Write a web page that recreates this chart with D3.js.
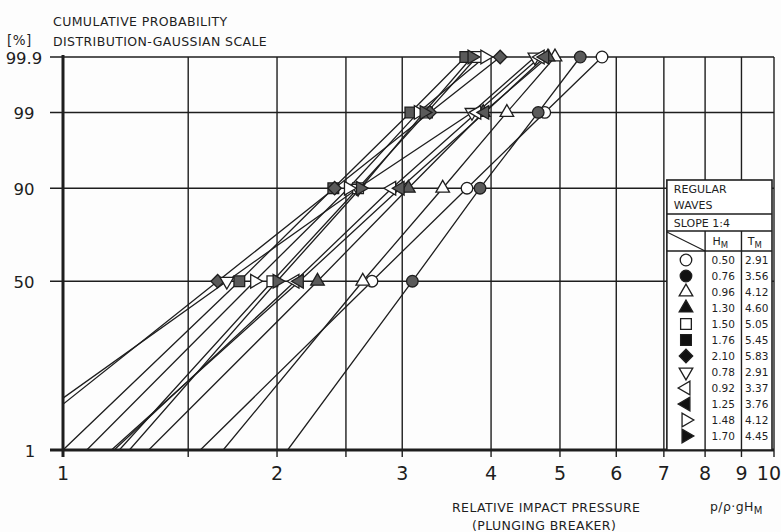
<!DOCTYPE html>
<html><head><meta charset="utf-8">
<script src="https://cdn.jsdelivr.net/npm/d3@7"></script>
<style>
html,body{margin:0;padding:0;background:#fff;}
svg{display:block;font-family:"DejaVu Sans",sans-serif;}
</style></head>
<body><svg id="c" width="781" height="532"></svg>
<script>
// ---- data ----
const probLevels = [50, 90, 99, 99.9];
const lowProb = 1;
const yTickLabels = [1, 50, 90, 99, 99.9];
const xTickLabels = [1, 2, 3, 4, 5, 6, 7, 8, 9, 10];
const xGridValues = [1, 1.5, 2, 2.5, 3, 4, 5, 6, 7, 8, 9, 10];
const markerTypes = ["circleOpen","circleFilled","triUpOpen","triUpFilled","squareOpen","squareFilled","diamondFilled","triDownOpen","triLeftOpen","triLeftFilled","triRightOpen","triRightFilled"];
const hmValues = ["0.50","0.76","0.96","1.30","1.50","1.76","2.10","0.78","0.92","1.25","1.48","1.70"];
const tmValues = ["2.91","3.56","4.12","4.60","5.05","5.45","5.83","2.91","3.37","3.76","4.12","4.45"];
// relative impact pressure at each cumulative probability
const at1   = [1.56, 2.07, 1.68, 1.32, 1.20, 1.00, 0.83, 0.79, 1.18, 1.17, 1.08, 1.24]; // line end at 1 %
const at50  = [2.72, 3.10, 2.64, 2.28, 1.97, 1.77, 1.65, 1.70, 2.12, 2.15, 1.86, 2.00];
const at90  = [3.70, 3.86, 3.42, 3.06, 2.60, 2.40, 2.41, 2.60, 2.90, 2.98, 2.52, 2.62];
const at99  = [4.76, 4.66, 4.21, 3.90, 3.25, 3.08, 3.28, 3.76, 3.82, 3.92, 3.16, 3.22];
const at999 = [5.73, 5.34, 4.92, 4.81, 3.82, 3.68, 4.12, 4.61, 4.69, 4.76, 3.92, 3.76];

// ---- inverse normal (probit) for the Gaussian probability scale ----
function probit(p){
  const a=[-39.69683028665376,220.9460984245205,-275.9285104469687,138.3577518672690,-30.66479806614716,2.506628277459239];
  const b=[-54.47609879822406,161.5858368580409,-155.6989798598866,66.80131188771972,-13.28068155288572];
  const c=[-0.007784894002430293,-0.3223964580411365,-2.400758277161838,-2.549732539343734,4.374664141464968,2.938163982698783];
  const d=[0.007784695709041462,0.3224671290700398,2.445134137142996,3.754408661907416];
  const pl=0.02425, ph=1-pl; let q,r;
  if(p<pl){q=Math.sqrt(-2*Math.log(p));return (((((c[0]*q+c[1])*q+c[2])*q+c[3])*q+c[4])*q+c[5])/((((d[0]*q+d[1])*q+d[2])*q+d[3])*q+1);}
  if(p<=ph){q=p-0.5;r=q*q;return (((((a[0]*r+a[1])*r+a[2])*r+a[3])*r+a[4])*r+a[5])*q/(((((b[0]*r+b[1])*r+b[2])*r+b[3])*r+b[4])*r+1);}
  q=Math.sqrt(-2*Math.log(1-p));return -(((((c[0]*q+c[1])*q+c[2])*q+c[3])*q+c[4])*q+c[5])/((((d[0]*q+d[1])*q+d[2])*q+d[3])*q+1);
}

const L=63, R=774, T=57, B=450;
const x = d3.scaleLog().domain([1,10]).range([L,R]);
const zScale = d3.scaleLinear().domain([probit(0.01), probit(0.999)]).range([B,T]);
const y = p => zScale(probit(p/100));

const svg = d3.select("#c");
svg.append("rect").attr("width",781).attr("height",532).attr("fill","#fdfdfd");
const ink = "#1e1e1e";

svg.append("defs").append("clipPath").attr("id","plotclip")
  .append("rect").attr("x",L).attr("y",T-12).attr("width",R-L).attr("height",B-T+12);

// grid
const g = svg.append("g");
g.selectAll("line.vg").data(xGridValues).join("line")
  .attr("x1",d=>x(d)).attr("x2",d=>x(d)).attr("y1",T).attr("y2",B+7)
  .attr("stroke",ink).attr("stroke-width",1.4);
g.selectAll("line.hg").data(yTickLabels).join("line")
  .attr("x1",L-13).attr("x2",R).attr("y1",d=>y(d)).attr("y2",d=>y(d))
  .attr("stroke",ink).attr("stroke-width",d=>d===1?2.8:1.5);
// thick left axis
g.append("line").attr("x1",L).attr("x2",L).attr("y1",T-2).attr("y2",B+7).attr("stroke",ink).attr("stroke-width",3);

// tick labels
g.selectAll("text.yl").data(yTickLabels).join("text")
  .attr("x",d=>d===1?30:24).attr("y",d=>y(d)+7).attr("text-anchor","middle")
  .attr("font-size",16.5).attr("fill",ink).text(d=>d);
g.selectAll("text.xl").data(xTickLabels).join("text")
  .attr("x",d=>d===10?781:x(d)).attr("y",480).attr("text-anchor",d=>d===10?"end":"middle")
  .attr("font-size",19).attr("fill",ink).text(d=>d);

// titles
const tt = svg.append("g").attr("fill",ink).attr("font-size",12.5).attr("letter-spacing",0.4);
tt.append("text").attr("x",53).attr("y",26).text("CUMULATIVE PROBABILITY");
tt.append("text").attr("x",7).attr("y",45).attr("font-size",13.5).text("[%]");
tt.append("text").attr("x",53).attr("y",46).text("DISTRIBUTION-GAUSSIAN SCALE");
tt.append("text").attr("x",452).attr("y",512).text("RELATIVE IMPACT PRESSURE");
tt.append("text").attr("x",472).attr("y",530).text("(PLUNGING BREAKER)");
const u = tt.append("text").attr("x",710).attr("y",511);
u.append("tspan").text("p/ρ·gH");
u.append("tspan").attr("dy",3).attr("font-size",10).text("M");

// series
const series = markerTypes.map((m,i)=>({
  m, line:[[at1[i],lowProb],[at50[i],50],[at90[i],90],[at99[i],99],[at999[i],99.9]],
  pts:[at50[i],at90[i],at99[i],at999[i]].map((v,k)=>[v,probLevels[k]])
}));
const lineGen = d3.line().x(d=>x(d[0])).y(d=>y(d[1]));
svg.append("g").attr("clip-path","url(#plotclip)")
  .selectAll("path").data(series).join("path")
  .attr("d",d=>lineGen(d.line)).attr("fill","none").attr("stroke",ink).attr("stroke-width",1.3);

function sym(m){
  if(m.startsWith("circle")) return {t:d3.symbolCircle,s:105,r:0};
  if(m.startsWith("square")) return {t:d3.symbolSquare,s:115,r:0};
  if(m.startsWith("diamond")) return {t:d3.symbolSquare,s:90,r:45};
  const r = m.startsWith("triUp")?0:m.startsWith("triDown")?180:m.startsWith("triLeft")?-90:90;
  return {t:d3.symbolTriangle,s:80,r};
}
function drawMarker(sel,m,px,py,fillCol){
  const s=sym(m), filled=m.endsWith("Filled");
  sel.append("path").attr("d",d3.symbol().type(s.t).size(s.s)())
    .attr("transform",`translate(${px},${py}) rotate(${s.r})`)
    .attr("fill",filled?fillCol:"#fff").attr("stroke",ink).attr("stroke-width",1.3);
}
const mg = svg.append("g");
series.forEach(sr=>sr.pts.forEach(p=>drawMarker(mg,sr.m,x(p[0]),y(p[1]),"#5a5a5a")));

// legend table aligned with grid 7..10
const lx0 = x(7)+3, lx1 = x(8), lx2 = x(9), lx3 = x(10)-2;
const ly0 = 180, ly1 = 214, ly2 = 231, ly3 = 251, rowH = 16;
const lg = svg.append("g");
lg.append("rect").attr("x",lx0).attr("y",ly0).attr("width",lx3-lx0).attr("height",B-ly0).attr("fill","#fff").attr("stroke",ink).attr("stroke-width",1.6);
[[ly1],[ly2],[ly3]].forEach(([yy])=>lg.append("line").attr("x1",lx0).attr("x2",lx3).attr("y1",yy).attr("y2",yy).attr("stroke",ink).attr("stroke-width",1.4));
[lx1,lx2].forEach(xx=>lg.append("line").attr("x1",xx).attr("x2",xx).attr("y1",ly2).attr("y2",B).attr("stroke",ink).attr("stroke-width",1.4));
lg.append("line").attr("x1",lx0).attr("y1",ly2+1).attr("x2",lx1).attr("y2",ly3).attr("stroke",ink).attr("stroke-width",1.1);
const lt = lg.append("g").attr("fill",ink).attr("font-size",11);
lt.append("text").attr("x",lx0+7).attr("y",193).text("REGULAR");
lt.append("text").attr("x",lx0+7).attr("y",209).text("WAVES");
lt.append("text").attr("x",lx0+7).attr("y",227).text("SLOPE 1:4");
const h1 = lt.append("text").attr("x",(lx1+lx2)/2-3).attr("y",245).attr("text-anchor","middle");
h1.append("tspan").text("H"); h1.append("tspan").attr("dy",3).attr("font-size",8.5).text("M");
const h2 = lt.append("text").attr("x",(lx2+lx3)/2-2).attr("y",245).attr("text-anchor","middle");
h2.append("tspan").text("T"); h2.append("tspan").attr("dy",3).attr("font-size",8.5).text("M");
markerTypes.forEach((m,i)=>{
  const cy = 260 + i*rowH;
  drawMarker(lg,m,(lx0+lx1)/2,cy,"#111");
  lt.append("text").attr("x",(lx1+lx2)/2).attr("y",cy+4).attr("text-anchor","middle").attr("font-size",10.5).text(hmValues[i]);
  lt.append("text").attr("x",(lx2+lx3)/2).attr("y",cy+4).attr("text-anchor","middle").attr("font-size",10.5).text(tmValues[i]);
});
</script></body></html>
